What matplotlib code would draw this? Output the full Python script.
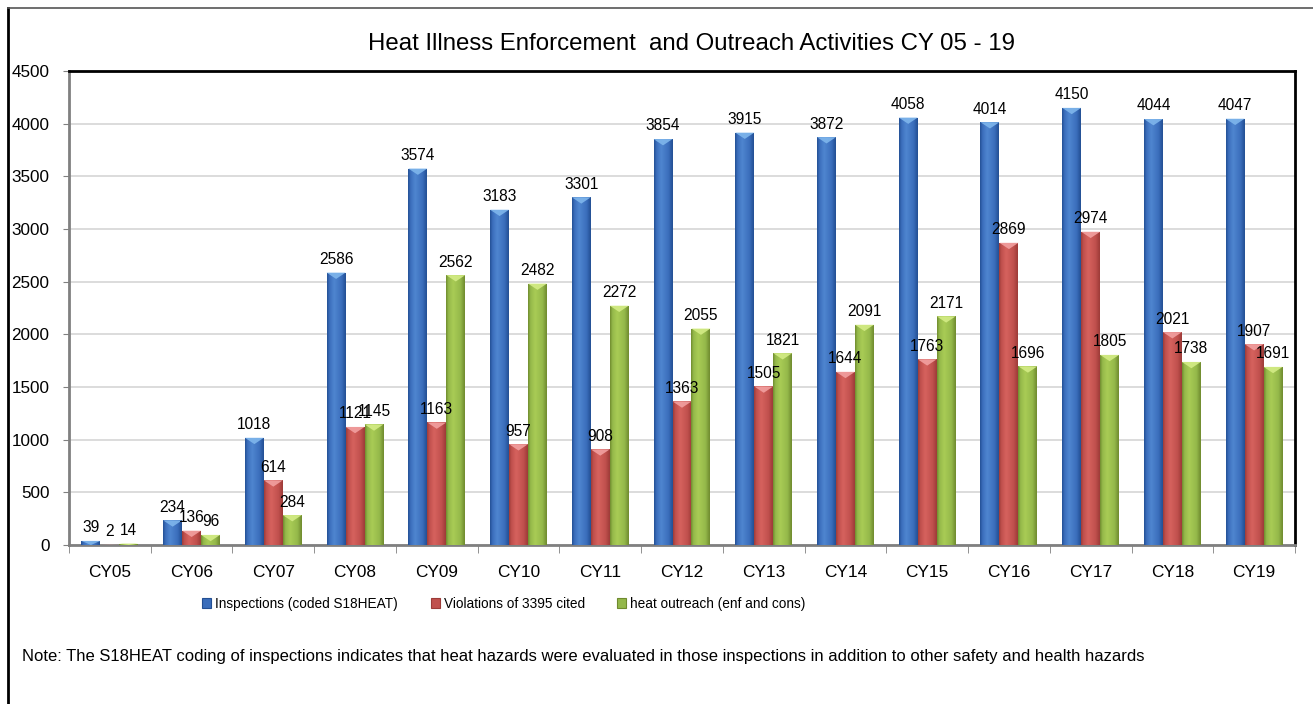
import matplotlib
matplotlib.use("Agg")
import matplotlib.pyplot as plt
import numpy as np
from matplotlib.colors import LinearSegmentedColormap
from matplotlib.patches import Polygon, Patch
from matplotlib.lines import Line2D

# Data
years = ["CY05", "CY06", "CY07", "CY08", "CY09", "CY10", "CY11", "CY12",
         "CY13", "CY14", "CY15", "CY16", "CY17", "CY18", "CY19"]
inspections = [39, 234, 1018, 2586, 3574, 3183, 3301, 3854, 3915, 3872, 4058, 4014, 4150, 4044, 4047]
violations = [2, 136, 614, 1121, 1163, 957, 908, 1363, 1505, 1644, 1763, 2869, 2974, 2021, 1907]
outreach = [14, 96, 284, 1145, 2562, 2482, 2272, 2055, 1821, 2091, 2171, 1696, 1805, 1738, 1691]
series_names = ["Inspections (coded S18HEAT)", "Violations of 3395 cited", "heat outreach (enf and cons)"]

# dark edge, mid, highlight, top bevel
shades = [
    ("#234f93", "#3a6dbb", "#4f86d0", "#7fb6ec"),
    ("#9c3b38", "#c0504d", "#d6625e", "#f2a0a0"),
    ("#6f8a2e", "#94b84a", "#a9cc55", "#d4ec86"),
]

plt.rcParams["font.family"] = ["Liberation Sans", "DejaVu Sans"]

fig = plt.figure(figsize=(13.13, 7.04), dpi=100)
ax = fig.add_axes([69 / 1313, 1 - 545 / 704, (1295 - 69) / 1313, (545 - 71) / 704])

x = np.arange(len(years))
w = 0.232
data = [inspections, violations, outreach]

ymax = 4500
bevel = 60  # depth of the top triangle in data units

for i, (vals, sh) in enumerate(zip(data, shades)):
    dark, mid, light, top = sh
    cmap = LinearSegmentedColormap.from_list(
        "g%d" % i, [(0, dark), (0.12, mid), (0.38, light), (0.78, mid), (1, dark)])
    grad = np.linspace(0, 1, 64).reshape(1, -1)
    bars = ax.bar(x + (i - 1) * w, vals, w, color=mid, zorder=2, linewidth=0)
    for b, v in zip(bars, vals):
        bx, bw, bh = b.get_x(), b.get_width(), b.get_height()
        if bh <= 0:
            continue
        im = ax.imshow(grad, cmap=cmap, aspect="auto", extent=(bx, bx + bw, 0, bh),
                       zorder=3, interpolation="bicubic")
        im.set_clip_path(b)
        d = min(bevel, bh)
        tri = Polygon([(bx, bh), (bx + bw, bh), (bx + bw / 2, bh - d)],
                      closed=True, facecolor=top, edgecolor="none", zorder=4, alpha=0.9)
        ax.add_patch(tri)
        ax.annotate(str(v), (bx + bw / 2, bh), xytext=(0, 4), textcoords="offset points",
                    ha="center", va="bottom", fontsize=11.2, zorder=5)

ax.set_xlim(-0.5, len(years) - 0.5)
ax.set_ylim(0, ymax)
ax.set_yticks(np.arange(0, 4501, 500))
ax.set_xticks(x)
ax.set_xticklabels(years, fontsize=12.4)
ax.tick_params(axis="y", labelsize=12.3, length=4, color="#808080", pad=10)
ax.tick_params(axis="x", length=0, pad=14.5)
# minor ticks between categories
ax.set_xticks(np.arange(-0.5, len(years), 1), minor=True)
ax.tick_params(axis="x", which="minor", length=6, color="#808080")
ax.yaxis.grid(True, color="#d9d9d9", linewidth=1.3, zorder=0)
ax.set_axisbelow(True)

for s in ["left", "bottom"]:
    ax.spines[s].set_color("#808080")
    ax.spines[s].set_linewidth(2)
for s in ["top", "right"]:
    ax.spines[s].set_color("black")
    ax.spines[s].set_linewidth(2)

fig.text(692 / 1313, 1 - 44 / 704, "Heat Illness Enforcement  and Outreach Activities CY 05 - 19",
         ha="center", va="center", fontsize=17.3)

handles = [Patch(facecolor=sh[1], edgecolor=sh[0], linewidth=0.8) for sh in shades]
fig.legend(handles, series_names, loc="center", bbox_to_anchor=(504 / 1313, 1 - 604 / 704),
           ncol=3, frameon=False, fontsize=9.8, handlelength=0.65, handleheight=0.75,
           handletextpad=0.3, columnspacing=2.4)

fig.text(22 / 1313, 1 - 657 / 704,
         "Note: The S18HEAT coding of inspections indicates that heat hazards were evaluated in those inspections in addition to other safety and health hazards",
         ha="left", va="center", fontsize=12)

# outer chart frame (left and top edges visible)
fig.add_artist(Line2D([8 / 1313, 8 / 1313], [0, 1 - 8 / 704], color="black", linewidth=2))
fig.add_artist(Line2D([8 / 1313, 1], [1 - 8 / 704, 1 - 8 / 704], color="#555555", linewidth=1.2))

fig.savefig("out.png", dpi=100)
